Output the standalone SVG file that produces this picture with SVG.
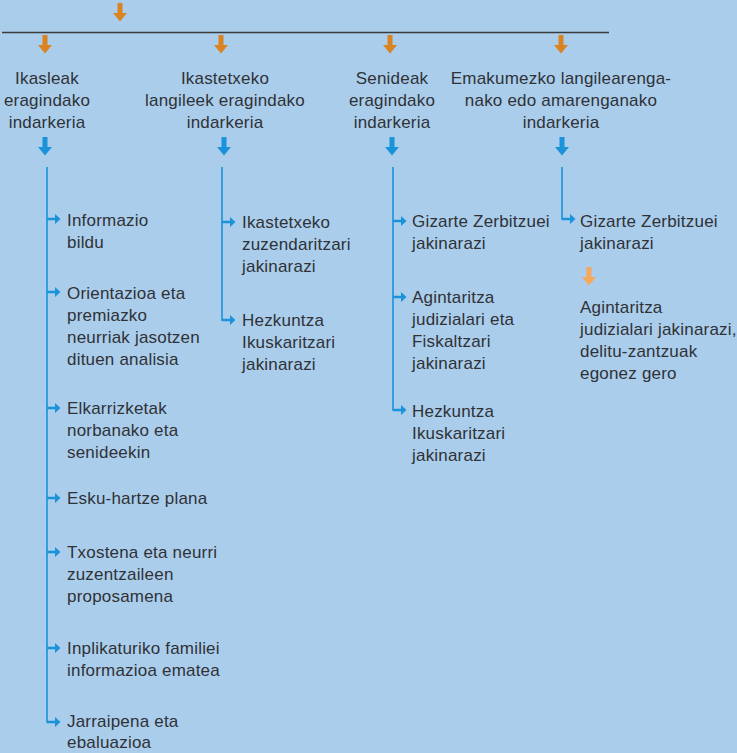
<svg xmlns="http://www.w3.org/2000/svg" width="737" height="753" viewBox="0 0 737 753">
<defs>
<style>
text{font-family:"Liberation Sans",Arial,sans-serif;font-size:17px;letter-spacing:0.2px;fill:#2f3236}
.c{text-anchor:middle}
.vl{stroke:#1a93d9;stroke-width:1.6;fill:none}
.ob{fill:#d98321}
.bb{fill:#1a93d9}
.lo{fill:#f5a85e}
</style>
<path id="dn" d="M-2.5,0 H2.5 V10 H7 L0,18.5 L-7,10 H-2.5 Z"/>
<path id="rt" d="M0,-1.2 H8 V-5 L13.5,0 L8,5 V1.2 H0 Z"/>
</defs>
<rect width="737" height="753" fill="#abcdec"/>
<g id="connectors">
<line x1="2" y1="32.5" x2="609" y2="32.5" stroke="#3a3b3d" stroke-width="1.5"/>
<use href="#dn" x="120" y="3" class="ob"/>
<use href="#dn" x="45" y="35" class="ob"/>
<use href="#dn" x="221" y="35" class="ob"/>
<use href="#dn" x="390" y="35" class="ob"/>
<use href="#dn" x="561" y="35" class="ob"/>
<use href="#dn" x="45" y="137" class="bb"/>
<use href="#dn" x="224" y="137" class="bb"/>
<use href="#dn" x="392" y="137" class="bb"/>
<use href="#dn" x="562" y="137" class="bb"/>
<path class="vl" d="M47,167 V722 H50"/>
<path class="vl" d="M222,167 V320 H225"/>
<path class="vl" d="M393,167 V410 H396"/>
<path class="vl" d="M562,167 V219 H565"/>
<g class="bb">
<use href="#rt" x="47" y="219"/>
<use href="#rt" x="47" y="292"/>
<use href="#rt" x="47" y="408"/>
<use href="#rt" x="47" y="498"/>
<use href="#rt" x="47" y="552"/>
<use href="#rt" x="47" y="648"/>
<use href="#rt" x="47" y="722"/>
<use href="#rt" x="222" y="222"/>
<use href="#rt" x="222" y="320"/>
<use href="#rt" x="393" y="221"/>
<use href="#rt" x="393" y="297"/>
<use href="#rt" x="393" y="410"/>
<use href="#rt" x="562" y="219"/>
</g>
<use href="#dn" x="589" y="267" class="lo"/>
</g>
<g id="h1"><text class="c" x="47" y="84">Ikasleak</text><text class="c" x="47" y="106">eragindako</text><text class="c" x="47" y="128">indarkeria</text></g>
<g id="h2"><text class="c" x="225" y="84">Ikastetxeko</text><text class="c" x="225" y="106">langileek eragindako</text><text class="c" x="225" y="128">indarkeria</text></g>
<g id="h3"><text class="c" x="392" y="84">Senideak</text><text class="c" x="392" y="106">eragindako</text><text class="c" x="392" y="128">indarkeria</text></g>
<g id="h4"><text class="c" x="561" y="84">Emakumezko langilearenga-</text><text class="c" x="561" y="106">nako edo amarenganako</text><text class="c" x="561" y="128">indarkeria</text></g>
<g id="a1"><text x="67" y="226">Informazio</text><text x="67" y="248">bildu</text></g>
<g id="a2"><text x="67" y="299">Orientazioa eta</text><text x="67" y="321">premiazko</text><text x="67" y="343">neurriak jasotzen</text><text x="67" y="365">dituen analisia</text></g>
<g id="a3"><text x="67" y="414">Elkarrizketak</text><text x="67" y="436">norbanako eta</text><text x="67" y="458">senideekin</text></g>
<g id="a4"><text x="67" y="504">Esku-hartze plana</text></g>
<g id="a5"><text x="67" y="558">Txostena eta neurri</text><text x="67" y="580">zuzentzaileen</text><text x="67" y="602">proposamena</text></g>
<g id="a6"><text x="67" y="654">Inplikaturiko familiei</text><text x="67" y="676">informazioa ematea</text></g>
<g id="a7"><text x="67" y="727">Jarraipena eta</text><text x="67" y="748">ebaluazioa</text></g>
<g id="b1"><text x="242" y="228">Ikastetxeko</text><text x="242" y="250">zuzendaritzari</text><text x="242" y="272">jakinarazi</text></g>
<g id="b2"><text x="242" y="326">Hezkuntza</text><text x="242" y="348">Ikuskaritzari</text><text x="242" y="370">jakinarazi</text></g>
<g id="c1"><text x="412" y="227">Gizarte Zerbitzuei</text><text x="412" y="249">jakinarazi</text></g>
<g id="c2"><text x="412" y="303">Agintaritza</text><text x="412" y="325">judizialari eta</text><text x="412" y="347">Fiskaltzari</text><text x="412" y="369">jakinarazi</text></g>
<g id="c3"><text x="412" y="417">Hezkuntza</text><text x="412" y="439">Ikuskaritzari</text><text x="412" y="461">jakinarazi</text></g>
<g id="d1"><text x="580" y="227">Gizarte Zerbitzuei</text><text x="580" y="249">jakinarazi</text></g>
<g id="d2"><text x="580" y="313">Agintaritza</text><text x="580" y="335">judizialari jakinarazi,</text><text x="580" y="357">delitu-zantzuak</text><text x="580" y="379">egonez gero</text></g>
</svg>
